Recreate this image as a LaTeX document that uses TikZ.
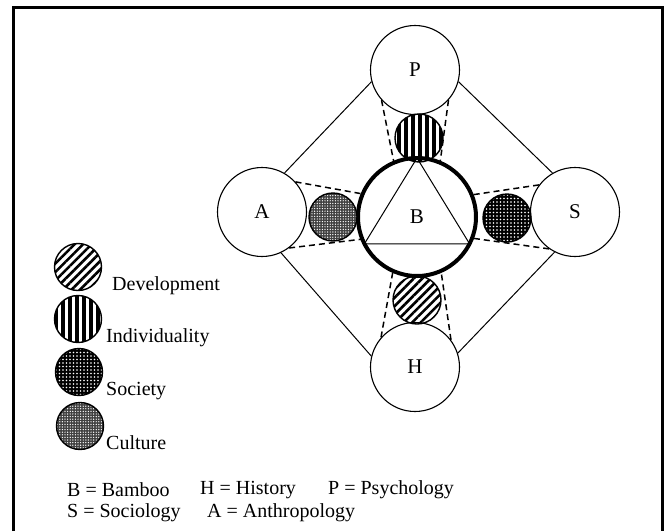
\documentclass[tikz,border=0pt]{standalone}
\usepackage{fontspec}
\setmainfont{Liberation Serif}
\usetikzlibrary{patterns.meta}

\tikzset{
	field/.style={circle,draw,line width=1.1,minimum size=89,inner sep=0,font=\fontsize{21}{23}\selectfont},
	theme/.style={circle,draw,line width=1.4,minimum size=48,inner sep=0},
	devel/.style={theme,pattern={Lines[angle=45,distance=6pt,line width=2.6pt]}},
	indiv/.style={theme,pattern={Lines[angle=90,distance=7pt,line width=3.5pt]}},
	socie/.style={theme,preaction={fill=black},pattern={Dots[distance=3.5pt,radius=0.8pt]},pattern color=white},
	cultu/.style={theme,preaction={fill=black!75},pattern={Dots[distance=2.6pt,radius=0.7pt]},pattern color=white},
	link/.style={line width=1},
	bound/.style={line width=1.5,dash pattern=on 6pt off 4pt},
	txt/.style={inner sep=0,anchor=west,font=\fontsize{20}{22}\selectfont}
}

\begin{document}
\begin{tikzpicture}[x=1pt,y=-1pt]
		\useasboundingbox (0,0) rectangle (665,531);
		\draw[line width=3] (13,531) -- (13,7) -- (662,7) -- (662,531);
		
		% disciplines
		\node[field] (P) at (415,70) {P};
		\node[field] (A) at (262,212) {A};
		\node[field] (S) at (575,212) {S};
		\node[field] (H) at (415,367) {H};
		\node[field,line width=4,minimum size=118,outer sep=0] (B) at (417,217) {B};
		
		% themes between B and the others
		\node[indiv] (Pi) at (419,138) {};
		\node[cultu] (Ac) at (333,217) {};
		\node[socie] (Ss) at (507,218) {};
		\node[devel] (Hd) at (417,300) {};
		
		\draw[link] (B.90) -- (B.207) -- (B.333) -- cycle;
		
		\draw[link] (P.195) -- (A.60);
		\draw[link] (P.-15) -- (S.120);
		\draw[link] (A.-65) -- (H.166);
		\draw[link] (S.243) -- (H.18);
		
		\draw[bound] (P.222) -- (B.113);
		\draw[bound] (P.318) -- (B.67);
		\draw[bound] (A.42) -- (B.157);
		\draw[bound] (A.-53) -- (B.202);
		\draw[bound] (S.143) -- (B.22);
		\draw[bound] (S.235) -- (B.-21);
		\draw[bound] (H.139) -- (B.246);
		\draw[bound] (H.37) -- (B.294);
		
		% legend
		\node[devel,minimum size=47] (k1) at (78,267) {};
		\node[indiv,minimum size=47] (k2) at (78,319) {};
		\node[socie,minimum size=47] (k3) at (79,372) {};
		\node[cultu,minimum size=47] (k4) at (80,426) {};
		\node[txt] (l1) at (112,286) {Development};
		\node[txt] (l2) at (106,338) {Individuality};
		\node[txt] (l3) at (106,391) {Society};
		\node[txt] (l4) at (106,443) {Culture};
		
		\node[txt] (nB) at (67,490) {B = Bamboo};
		\node[txt] (nH) at (200,490) {H = History};
		\node[txt] (nP) at (328,490) {P = Psychology};
		\node[txt] (nS) at (67,513) {S = Sociology};
		\node[txt] (nA) at (207,513) {A = Anthropology};
		
		\end{tikzpicture}
\end{document}
